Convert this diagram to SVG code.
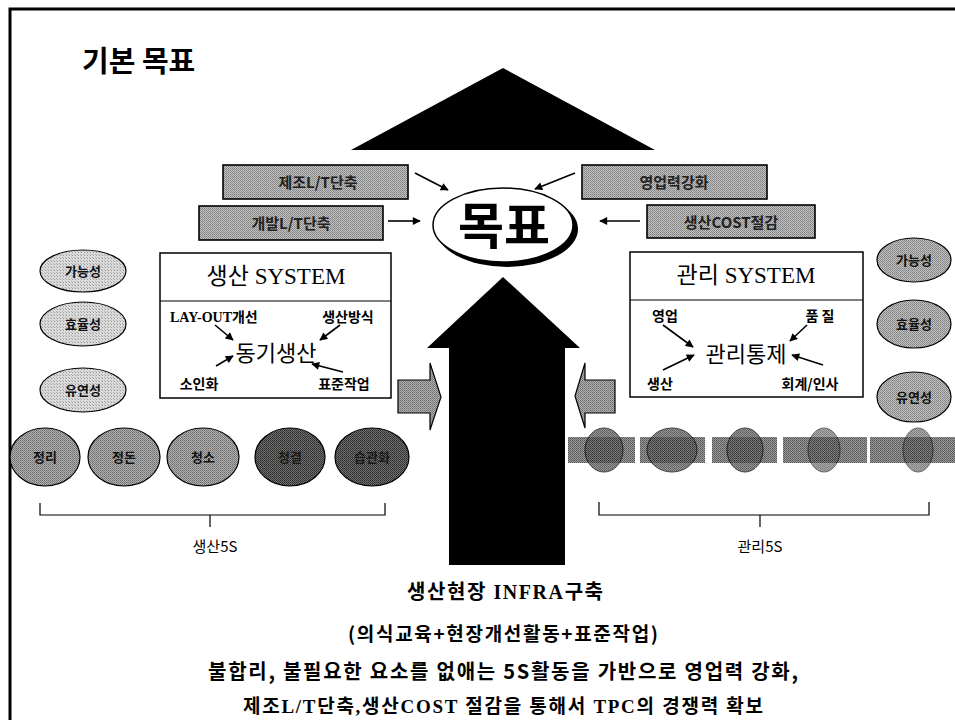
<svg xmlns="http://www.w3.org/2000/svg" width="955" height="720" viewBox="0 0 955 720">
<style>
.kb{font-family:"Noto Sans CJK KR","Noto Sans",sans-serif;font-weight:bold}
.kr{font-family:"Noto Sans CJK KR","Noto Sans",sans-serif}
.sr{font-family:"Liberation Serif","Noto Sans CJK KR",serif}
.srb{font-family:"Liberation Serif","Noto Sans CJK KR",serif;font-weight:bold}
.conn{stroke:#000;stroke-width:1.6;fill:none;marker-end:url(#ah)}
.gbox{stroke:#000;stroke-width:1.6;fill:url(#pMid)}
.lbl{fill:#222;font-size:15px;text-anchor:middle}
.sys{fill:#fff;stroke:#000;stroke-width:1.5}
.ell{stroke:#000;stroke-width:1.2}
.etx{fill:#111;font-size:13px;text-anchor:middle}
.brk{stroke:#000;stroke-width:1.2;fill:none}
.mid{text-anchor:middle}
</style>
<defs>
<pattern id="pLight" width="3" height="3" patternUnits="userSpaceOnUse"><rect width="3" height="3" fill="#dadada"/><rect width="1" height="1" fill="#9a9a9a"/><rect x="2" y="2" width="1" height="1" fill="#b0b0b0"/></pattern>
<pattern id="pMid" width="2" height="2" patternUnits="userSpaceOnUse"><rect width="2" height="2" fill="#c0c0c0"/><rect width="1" height="1" fill="#808080"/><rect x="1" y="1" width="1" height="1" fill="#909090"/></pattern>
<pattern id="pGray" width="2" height="2" patternUnits="userSpaceOnUse"><rect width="2" height="2" fill="#b0b0b0"/><rect width="1" height="1" fill="#6e6e6e"/><rect x="1" y="1" width="1" height="1" fill="#808080"/></pattern>
<pattern id="pGray2" width="2" height="2" patternUnits="userSpaceOnUse"><rect width="2" height="2" fill="#9a9a9a"/><rect width="1" height="1" fill="#555"/><rect x="1" y="1" width="1" height="1" fill="#666"/></pattern>
<pattern id="pDark" width="2" height="2" patternUnits="userSpaceOnUse"><rect width="2" height="2" fill="#707070"/><rect width="1" height="1" fill="#2a2a2a"/><rect x="1" y="1" width="1" height="1" fill="#3a3a3a"/></pattern>
<marker id="ah" viewBox="0 0 10 10" refX="9" refY="5" markerWidth="9" markerHeight="8" markerUnits="userSpaceOnUse" orient="auto"><path d="M0,0 L10,5 L0,10 z" fill="#000"/></marker>
</defs>
<rect width="955" height="720" fill="#fff"/>
<path d="M10,720 V9 H955" fill="none" stroke="#000" stroke-width="3"/>
<text x="82" y="72" class="kb" font-size="29" fill="#000">기본 목표</text>

<g id="roof"><polygon points="351,150 503,68 655,150" fill="#000"/></g>

<g id="goal">
<ellipse cx="507" cy="229" rx="71" ry="38" fill="#000"/>
<ellipse cx="503" cy="225" rx="70" ry="37" fill="#fff" stroke="#000" stroke-width="1.5"/>
<text x="504" y="244" class="kb mid" font-size="50" fill="#000">목표</text>
</g>

<g id="box-jejo"><rect x="223" y="165" width="185" height="34" class="gbox"/><text x="318" y="188" class="kb lbl">제조L/T단축</text></g>
<g id="box-gaebal"><rect x="199" y="206" width="184" height="34" class="gbox"/><text x="291" y="229" class="kb lbl">개발L/T단축</text></g>
<g id="box-youngup"><rect x="582" y="165" width="185" height="34" class="gbox"/><text x="674" y="188" class="kb lbl">영업력강화</text></g>
<g id="box-cost"><rect x="647" y="205" width="168" height="33" class="gbox"/><text x="731" y="228" class="kb lbl">생산COST절감</text></g>

<g id="big-arrow"><polygon points="503,277 580,348 565,348 565,565 449,565 449,348 427,348" fill="#000"/></g>
<g id="arrow-left-in"><polygon points="398,380 430,380 430,363 441,397 430,430 430,413 398,413" fill="url(#pGray)" stroke="#000" stroke-width="1.2"/></g>
<g id="arrow-right-in"><polygon points="615,380 585,380 585,363 575,396 585,428 585,413 615,413" fill="url(#pGray)" stroke="#000" stroke-width="1.2"/></g>

<g id="sys-prod">
<rect x="160" y="253" width="231" height="145" class="sys"/>
<line x1="160" y1="301" x2="391" y2="301" stroke="#000" stroke-width="1.2"/>
<text x="276" y="284" class="sr mid" font-size="23">생산 SYSTEM</text>
<text x="170" y="322" class="srb" font-size="14">LAY-OUT개선</text>
<text x="348" y="322" class="kb mid" font-size="14">생산방식</text>
<text x="276" y="361" class="kr mid" font-size="22">동기생산</text>
<text x="199" y="389" class="kb mid" font-size="14">소인화</text>
<text x="344" y="389" class="kb mid" font-size="14">표준작업</text>
</g>

<g id="sys-mgmt">
<rect x="630" y="252" width="233" height="145" class="sys"/>
<line x1="630" y1="300" x2="863" y2="300" stroke="#000" stroke-width="1.2"/>
<text x="746" y="283" class="sr mid" font-size="23">관리 SYSTEM</text>
<text x="665" y="321" class="kb mid" font-size="14">영업</text>
<text x="820" y="321" class="kb mid" font-size="14">품 질</text>
<text x="746" y="362" class="kr mid" font-size="22">관리통제</text>
<text x="660" y="389" class="kb mid" font-size="14">생산</text>
<text x="810" y="389" class="kb mid" font-size="14">회계/인사</text>
</g>

<g id="left-attrs">
<g id="l-ganeung"><ellipse cx="83" cy="271" rx="43" ry="21" fill="url(#pLight)" class="ell"/><text x="83" y="276" class="kb etx">가능성</text></g>
<g id="l-hyoyul"><ellipse cx="83" cy="324" rx="43" ry="22" fill="url(#pLight)" class="ell"/><text x="83" y="329" class="kb etx">효율성</text></g>
<g id="l-yuyeon"><ellipse cx="83" cy="390" rx="43" ry="22" fill="url(#pLight)" class="ell"/><text x="83" y="395" class="kb etx">유연성</text></g>
</g>
<g id="right-attrs">
<g id="r-ganeung"><ellipse cx="914" cy="260" rx="37" ry="22" fill="url(#pMid)" class="ell"/><text x="914" y="265" class="kb etx">가능성</text></g>
<g id="r-hyoyul"><ellipse cx="914" cy="324" rx="37" ry="24" fill="url(#pMid)" class="ell"/><text x="914" y="329" class="kb etx">효율성</text></g>
<g id="r-yuyeon"><ellipse cx="914" cy="397" rx="37" ry="25" fill="url(#pMid)" class="ell"/><text x="914" y="402" class="kb etx">유연성</text></g>
</g>

<g id="prod5s">
<g id="s1"><ellipse cx="45" cy="457" rx="35" ry="29" fill="url(#pGray)" class="ell"/><text x="45" y="462" class="kb etx">정리</text></g>
<g id="s2"><ellipse cx="124" cy="457" rx="36" ry="29" fill="url(#pGray)" class="ell"/><text x="124" y="462" class="kb etx">정돈</text></g>
<g id="s3"><ellipse cx="203" cy="457" rx="36" ry="29" fill="url(#pGray)" class="ell"/><text x="203" y="462" class="kb etx">청소</text></g>
<g id="s4"><ellipse cx="290" cy="457" rx="35" ry="29" fill="url(#pDark)" class="ell"/><text x="290" y="462" class="kb etx" style="fill:#1a1a1a">청결</text></g>
<g id="s5"><ellipse cx="372" cy="457" rx="37" ry="29" fill="url(#pDark)" class="ell"/><text x="372" y="462" class="kb etx" style="fill:#1a1a1a">습관화</text></g>
</g>

<g id="mgmt5s">
<g id="m1"><rect x="568" y="437" width="67" height="26" fill="url(#pGray2)"/><ellipse cx="604" cy="450" rx="19" ry="22" fill="url(#pDark)" opacity="0.75" stroke="#000"/></g>
<g id="m2"><rect x="640" y="437" width="65" height="26" fill="url(#pGray2)"/><ellipse cx="672" cy="450" rx="25" ry="22" fill="url(#pDark)" opacity="0.75" stroke="#000"/></g>
<g id="m3"><rect x="712" y="437" width="65" height="26" fill="url(#pGray2)"/><ellipse cx="745" cy="450" rx="18" ry="22" fill="url(#pDark)" opacity="0.75" stroke="#000"/></g>
<g id="m4"><rect x="783" y="437" width="84" height="26" fill="url(#pGray2)"/><ellipse cx="824" cy="450" rx="16" ry="22" fill="url(#pDark)" opacity="0.6" stroke="#000"/></g>
<g id="m5"><rect x="870" y="437" width="85" height="26" fill="url(#pGray2)"/><ellipse cx="918" cy="450" rx="15" ry="22" fill="url(#pDark)" opacity="0.6" stroke="#000"/></g>
</g>

<g id="connectors">
<line x1="415" y1="173" x2="448" y2="190" class="conn"/>
<line x1="388" y1="221" x2="420" y2="221" class="conn"/>
<line x1="575" y1="173" x2="535" y2="189" class="conn"/>
<line x1="640" y1="221" x2="600" y2="221" class="conn"/>
<line x1="215" y1="325" x2="233" y2="340" class="conn"/>
<line x1="340" y1="325" x2="320" y2="340" class="conn"/>
<line x1="216" y1="366" x2="233" y2="356" class="conn"/>
<line x1="343" y1="372" x2="312" y2="364" class="conn"/>
<line x1="663" y1="325" x2="693" y2="347" class="conn"/>
<line x1="807" y1="325" x2="790" y2="341" class="conn"/>
<line x1="663" y1="370" x2="694" y2="355" class="conn"/>
<line x1="823" y1="365" x2="792" y2="355" class="conn"/>
<path d="M40,503 V515 H385 V503 M210,515 V527" class="brk"/>
<path d="M599,502 V515 H929 V502 M760,515 V527" class="brk"/>
</g>

<text x="215" y="552" class="kr mid" font-size="15">생산5S</text>
<text x="760" y="552" class="kr mid" font-size="15">관리5S</text>

<g id="summary">
<text x="505" y="599" class="srb mid" font-size="20" textLength="196" lengthAdjust="spacing">생산현장 INFRA구축</text>
<text x="503" y="641" class="kb mid" font-size="19" textLength="310" lengthAdjust="spacing">(의식교육+현장개선활동+표준작업)</text>
<text x="503" y="679" class="kb mid" font-size="20" textLength="590" lengthAdjust="spacing">불합리, 불필요한 요소를 없애는 5S활동을 가반으로 영업력 강화,</text>
<text x="503" y="713" class="srb mid" font-size="19" textLength="520" lengthAdjust="spacing">제조L/T단축,생산COST 절감을 통해서 TPC의 경쟁력 확보</text>
</g>
</svg>
